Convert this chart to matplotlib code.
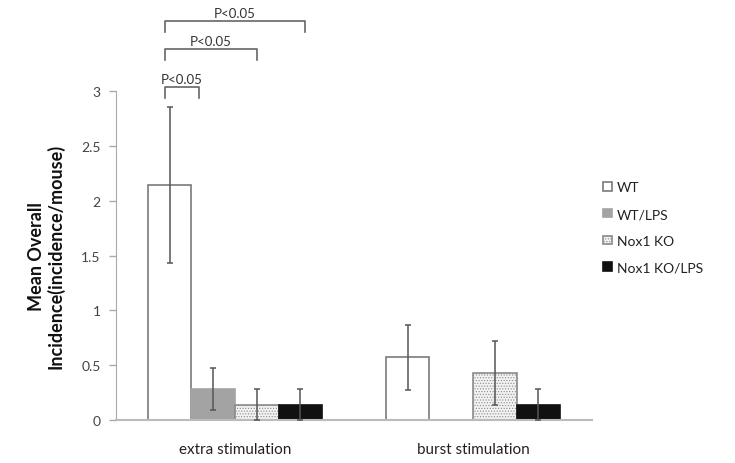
import matplotlib
matplotlib.use("Agg")
import matplotlib.pyplot as plt
import numpy as np

plt.rcParams['font.family'] = ['Lato', 'DejaVu Sans']

groups = ["extra stimulation", "burst stimulation"]
series = ["WT", "WT/LPS", "Nox1 KO", "Nox1 KO/LPS"]
means = {
    "WT":          [2.14, 0.57],
    "WT/LPS":      [0.28, 0.0],
    "Nox1 KO":     [0.14, 0.43],
    "Nox1 KO/LPS": [0.14, 0.14],
}
errs = {
    "WT":          [0.71, 0.30],
    "WT/LPS":      [0.19, 0.0],
    "Nox1 KO":     [0.14, 0.29],
    "Nox1 KO/LPS": [0.14, 0.14],
}
yticks = [0, 0.5, 1, 1.5, 2, 2.5, 3]
ytick_labels = ["0", "0.5", "1", "1.5", "2", "2.5", "3"]
sig_label = "P<0.05"

styles = {
    "WT":          dict(facecolor="white", edgecolor="#7a7a7a", hatch=None),
    "WT/LPS":      dict(facecolor="#a3a3a3", edgecolor="#a3a3a3", hatch=None),
    "Nox1 KO":     dict(facecolor="#f2f2f2", edgecolor="#8a8a8a", hatch="......"),
    "Nox1 KO/LPS": dict(facecolor="#111111", edgecolor="#111111", hatch=None),
}

fig = plt.figure(figsize=(7.35, 4.64), dpi=100)
ax = fig.add_axes([116/735, 43/464, 476/735, 329/464])

bw = 0.183
x = np.arange(len(groups))
offsets = (np.arange(4) - 1.5) * bw
plt.rcParams['hatch.color'] = '#d6d6d6'
plt.rcParams['hatch.linewidth'] = 0.5
handles = []
for i, s in enumerate(series):
    st = styles[s]
    vals = np.array(means[s])
    e = np.array(errs[s])
    b = ax.bar(x + offsets[i], vals, bw, facecolor=st["facecolor"], edgecolor=st["edgecolor"],
               hatch=st["hatch"], linewidth=1.2, label=s, zorder=2)
    handles.append(b)
    mask = vals > 0
    ax.errorbar((x + offsets[i])[mask], vals[mask], yerr=e[mask], fmt='none', ecolor="#555555",
                elinewidth=1.1, capsize=2.5, capthick=1.1, zorder=3)

ax.set_xlim(-0.5, 1.5)
ax.set_ylim(0, 3)
ax.set_xticks(x)
ax.set_xticklabels(groups, fontsize=11, color="#222222")
ax.tick_params(axis='x', length=0, pad=16)
ax.set_yticks(yticks)
ax.set_yticklabels(ytick_labels, fontsize=10, color="#444444")
ax.tick_params(axis='y', length=5, color="#aaaaaa", width=1, pad=6)
for sp in ["top", "right"]:
    ax.spines[sp].set_visible(False)
ax.spines["left"].set_color("#aaaaaa")
ax.spines["bottom"].set_color("#bbbbbb")
ax.spines["bottom"].set_linewidth(1.5)

ax.set_ylabel("Mean Overall\nIncidence(incidence/mouse)", fontsize=13, fontweight="bold",
              color="#111111", labelpad=12, linespacing=1.1)

def bracket(x0, x1, ytop, ydrop):
    ax.plot([x0, x0, x1, x1], [ytop - ydrop, ytop, ytop, ytop - ydrop], color="#666666",
            lw=1.2, clip_on=False, transform=ax.get_xaxis_transform())
    ax.text((x0 + x1) / 2, ytop + 0.005, sig_label, ha="center", va="bottom", fontsize=9.5,
            color="#333333", transform=ax.get_xaxis_transform())

x_wt = x[0] + offsets[0] - 0.02
bracket(x_wt, x[0] + offsets[1] - 0.06, 1.013, 0.035)
bracket(x_wt, x[0] + offsets[2], 1.128, 0.035)
bracket(x_wt, x[0] + offsets[3] + 0.02, 1.213, 0.035)

leg = fig.legend(handles=handles, labels=series, loc="upper left", bbox_to_anchor=(590/735, 1 - 170/464),
                 frameon=False, fontsize=10, handlelength=0.7, handleheight=0.55, labelspacing=1.05,
                 handletextpad=0.35)
for t in leg.get_texts():
    t.set_color("#222222")

fig.savefig("out.png", dpi=100)
